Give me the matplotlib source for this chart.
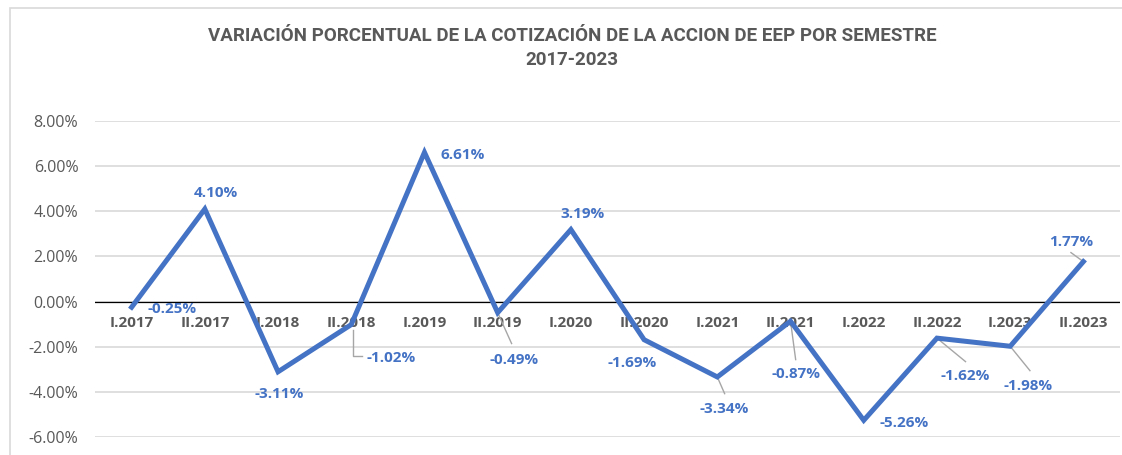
import matplotlib
matplotlib.use("Agg")
import matplotlib.pyplot as plt
from matplotlib.patches import Rectangle

categories = ["I.2017", "II.2017", "I.2018", "II.2018", "I.2019", "II.2019", "I.2020",
              "II.2020", "I.2021", "II.2021", "I.2022", "II.2022", "I.2023", "II.2023"]
values = [-0.25, 4.10, -3.11, -1.02, 6.61, -0.49, 3.19, -1.69, -3.34, -0.87, -5.26, -1.62, -1.98, 1.77]
y_ticks = [-6, -4, -2, 0, 2, 4, 6, 8]

# data-label offsets from each point (category units, percent units)
label_offsets = [(0.55, -0.10), (0.15, 0.73), (0.01, -0.97), (0.55, -1.46), (0.52, -0.10),
                 (0.23, -2.08), (0.16, 0.71), (-0.17, -1.01), (0.10, -1.40), (0.08, -2.32),
                 (0.55, -0.10), (0.38, -1.66), (0.25, -1.74), (-0.17, 0.89)]
# leader-line end offsets from each point (None = no leader)
leader_ends = [None, None, None, (0.14, -1.37), None,
               (0.19, -1.37), None, None, (0.10, -0.74), (0.07, -1.70),
               None, (0.39, -1.04), (0.27, -1.08), (-0.17, 0.40)]

BLUE = "#4472C4"
GRAY = "#595959"
LEADER = "#A6A6A6"

fig = plt.figure(figsize=(11.22, 4.55), dpi=100)
fig.patches.append(Rectangle((10/1122, -0.1), 1.2, 1 - 8/455 + 0.1, transform=fig.transFigure,
                             fill=False, edgecolor="#D9D9D9", linewidth=1.2))

ax = fig.add_axes([95/1122, 1 - 437/455, (1120 - 95)/1122, (437 - 121)/455])
x = list(range(len(categories)))
ax.set_xlim(-0.5, len(categories) - 0.5)
ax.set_ylim(-6, 8)
ax.set_yticks(y_ticks)
ax.set_yticklabels([f"{v:.2f}%" for v in y_ticks], color=GRAY, fontsize=11.5,
                   fontfamily="Open Sans")
ax.tick_params(axis="y", length=0, pad=12)
ax.tick_params(axis="x", length=0)
ax.set_xticks([])
for s in ax.spines.values():
    s.set_visible(False)
ax.grid(axis="y", color="#D9D9D9", linewidth=1.2)
ax.set_axisbelow(True)
ax.axhline(0, color="black", linewidth=0.9, zorder=1)

for xi, c in zip(x, categories):
    ax.text(xi, -0.97, c, ha="center", va="center", fontsize=11, fontweight="bold",
            color=GRAY, fontfamily="Open Sans", zorder=2)

ax.plot(x, values, color=BLUE, linewidth=3.6, zorder=3, solid_joinstyle="miter")

for xi, v, (dx, dy), le in zip(x, values, label_offsets, leader_ends):
    ax.text(xi + dx, v + dy, f"{v:.2f}%", ha="center", va="center", fontsize=11,
            fontweight="bold", color=BLUE, fontfamily="Open Sans", zorder=4)
    if le is not None:
        ex, ey = le
        if xi == 3:
            ax.plot([xi + 0.03, xi + 0.03, xi + ex], [v - 0.25, v + ey, v + ey],
                    color=LEADER, linewidth=1, zorder=2)
        else:
            ax.plot([xi, xi + ex], [v, v + ey], color=LEADER, linewidth=1, zorder=2)

fig.text(572/1122, 1 - 36/455, "VARIACIÓN PORCENTUAL DE LA COTIZACIÓN DE LA ACCION DE EEP POR SEMESTRE",
         ha="center", va="center", fontsize=13.5, fontweight="bold", color=GRAY,
         fontfamily="Roboto")
fig.text(572/1122, 1 - 60/455, "2017-2023", ha="center", va="center", fontsize=13.5,
         fontweight="bold", color=GRAY, fontfamily="Roboto")

fig.savefig("out.png", dpi=100)
